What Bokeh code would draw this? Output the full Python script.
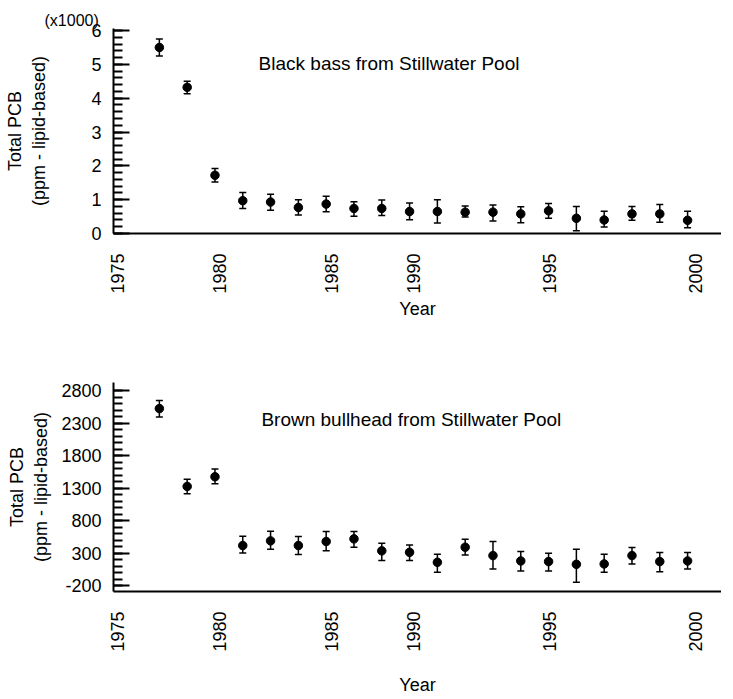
import math
from bokeh.plotting import figure
from bokeh.layouts import column
from bokeh.models import ColumnDataSource, Whisker, TeeHead, FixedTicker, Label, Range1d
from bokeh.embed import file_html
from bokeh.resources import INLINE

# ---------------- data ----------------
tick_years = [1975, 1980, 1985, 1990, 1995, 2000]
tick_pos = [-1.52, 2.15, 6.18, 9.14, 14.05, 19.28]   # position of each year label on the sample axis

# Black bass (values in thousands of ppm)
bass_val = [5.50, 4.32, 1.72, 0.97, 0.93, 0.77, 0.87, 0.74, 0.74, 0.65,
            0.65, 0.63, 0.63, 0.58, 0.67, 0.45, 0.40, 0.58, 0.58, 0.39]
bass_lo = [5.25, 4.13, 1.52, 0.74, 0.69, 0.55, 0.64, 0.51, 0.53, 0.41,
           0.31, 0.49, 0.37, 0.32, 0.45, 0.08, 0.19, 0.39, 0.33, 0.17]
bass_hi = [5.75, 4.50, 1.92, 1.21, 1.16, 1.00, 1.10, 0.94, 0.99, 0.90,
           1.00, 0.81, 0.84, 0.79, 0.89, 0.80, 0.66, 0.80, 0.86, 0.66]

# Brown bullhead (ppm)
bull_val = [2528, 1329, 1478, 418, 490, 418, 480, 521, 336, 314,
            160, 392, 263, 181, 171, 129, 135, 263, 171, 181]
bull_lo = [2399, 1216, 1370, 305, 361, 280, 336, 390, 186, 186,
           6, 273, 58, 26, 26, -149, 6, 135, 16, 58]
bull_hi = [2652, 1441, 1596, 560, 640, 558, 634, 634, 453, 428,
           283, 515, 479, 325, 299, 361, 283, 387, 310, 310]

bass_ticks = [0, 1, 2, 3, 4, 5, 6]
bull_ticks = [-200, 300, 800, 1300, 1800, 2300, 2800]

FONT = "Liberation Sans"
FS = "18px"


def make_fig(frame_h, border_top, border_bottom, y0, y1, ticks, minor_step,
             vals, lo, hi, ylabel_standoff, xlabel_standoff):
    p = figure(frame_width=608, frame_height=frame_h, output_backend="svg",
               toolbar_location=None,
               x_range=Range1d(-1.65, 20.22), y_range=Range1d(y0, y1),
               min_border_left=113, min_border_right=0,
               min_border_top=border_top, min_border_bottom=border_bottom)
    p.outline_line_color = None
    p.grid.visible = False
    p.background_fill_color = "white"
    p.border_fill_color = "white"

    xs = list(range(len(vals)))
    src = ColumnDataSource(dict(x=xs, y=vals, lo=lo, hi=hi))
    w = Whisker(base="x", lower="lo", upper="hi", source=src,
                line_color="black", line_width=1.5,
                upper_head=TeeHead(size=7, line_width=1.5, line_color="black"),
                lower_head=TeeHead(size=7, line_width=1.5, line_color="black"))
    p.add_layout(w)
    p.scatter("x", "y", source=src, size=8.5, color="black")

    # y axis
    minor = []
    t = ticks[0]
    while t <= ticks[-1] + 1e-9:
        minor.append(round(t, 6))
        t += minor_step
    ya = p.yaxis[0]
    ya.ticker = FixedTicker(ticks=ticks, minor_ticks=minor)
    ya.major_label_overrides = {tk: str(tk) for tk in ticks}
    ya.major_tick_in = 16
    ya.major_tick_out = 0
    ya.minor_tick_in = 9
    ya.minor_tick_out = 0
    ya.major_tick_line_width = 2
    ya.minor_tick_line_width = 2
    ya.axis_line_width = 2
    ya.major_label_standoff = 12
    ya.major_label_text_font = FONT
    ya.major_label_text_font_size = FS
    ya.major_label_text_color = "black"
    ya.axis_label = "Total PCB\n(ppm - lipid-based)"
    ya.axis_label_text_font = FONT
    ya.axis_label_text_font_size = FS
    ya.axis_label_text_font_style = "normal"
    ya.axis_label_text_color = "black"
    ya.axis_label_standoff = ylabel_standoff

    # x axis
    xa = p.xaxis[0]
    xa.ticker = FixedTicker(ticks=tick_pos)
    xa.major_label_overrides = {pos: str(yr) for pos, yr in zip(tick_pos, tick_years)}
    xa.major_label_orientation = math.pi / 2
    xa.major_tick_in = 0
    xa.major_tick_out = 0
    xa.minor_tick_line_color = None
    xa.axis_line_width = 2
    xa.major_label_standoff = 20
    xa.major_label_text_font = FONT
    xa.major_label_text_font_size = FS
    xa.major_label_text_color = "black"
    xa.axis_label = "Year"
    xa.axis_label_text_font = FONT
    xa.axis_label_text_font_size = FS
    xa.axis_label_text_font_style = "normal"
    xa.axis_label_text_color = "black"
    xa.axis_label_standoff = xlabel_standoff
    return p


p1 = make_fig(205, 28, 87, 0, 6.06, bass_ticks, 0.2,
              bass_val, bass_lo, bass_hi, 39, 2)
p1.title.text = "(x1000)"
p1.title.align = "left"
p1.title.offset = -69
p1.title.standoff = 0
p1.title.text_font = FONT
p1.title.text_font_size = "16px"
p1.title.text_font_style = "normal"
p1.title.text_color = "black"
p1.add_layout(Label(x=3.57, y=5.04, text="Black bass from Stillwater Pool",
                    text_baseline="middle", text_font=FONT, text_font_size="19px",
                    text_color="black"))

p2 = make_fig(209, 61, 101, -290, 2930, bull_ticks, 100,
              bull_val, bull_lo, bull_hi, 7, 20)
p2.add_layout(Label(x=3.67, y=2363, text="Brown bullhead from Stillwater Pool",
                    text_baseline="middle", text_font=FONT, text_font_size="19px",
                    text_color="black"))

layout = column(p1, p2, spacing=0)
open("out.html", "w").write(file_html(layout, INLINE))
